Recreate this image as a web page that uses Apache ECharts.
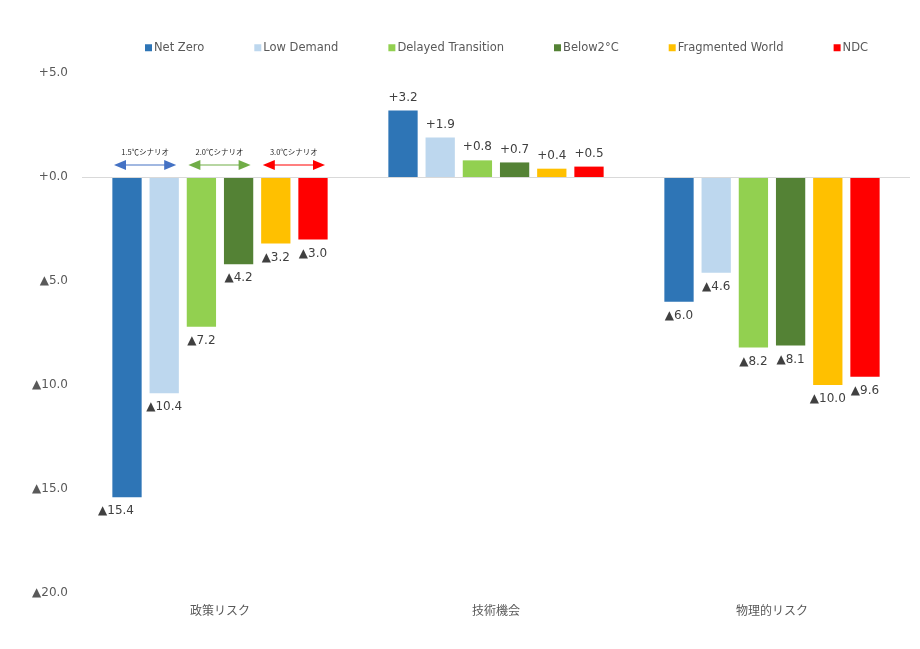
<!DOCTYPE html>
<html><head><meta charset="utf-8">
<script src="https://cdn.jsdelivr.net/npm/echarts@6/dist/echarts.min.js"></script>
<style>html,body{margin:0;padding:0;background:#fff}#c{width:920px;height:649px}</style>
</head><body><div id="c"></div>
<script>
const categories = ['政策リスク', '技術機会', '物理的リスク'];
const seriesNames = ['Net Zero', 'Low Demand', 'Delayed Transition', 'Below2°C', 'Fragmented World', 'NDC'];
const netZero = [-15.4, 3.2, -6.0];
const lowDemand = [-10.4, 1.9, -4.6];
const delayedTransition = [-7.2, 0.8, -8.2];
const below2 = [-4.2, 0.7, -8.1];
const fragmentedWorld = [-3.2, 0.4, -10.0];
const ndc = [-3.0, 0.5, -9.6];
const scenarioLabels = ['1.5℃シナリオ', '2.0℃シナリオ', '3.0℃シナリオ'];
const colors = ['#2E75B6', '#BDD7EE', '#92D050', '#548235', '#FFC000', '#FF0000'];
const arrowColors = ['#4472C4', '#70AD47', '#FF0000'];
const allValues = [netZero, lowDemand, delayedTransition, below2, fragmentedWorld, ndc];

const FONT = "'DejaVu Sans','Noto Sans CJK JP',sans-serif";
function fmt(v) {
  if (v >= 0) return '+' + Math.abs(v).toFixed(1);
  return '▲' + Math.abs(v).toFixed(1);
}
const chart = echarts.init(document.getElementById('c'));
const series = seriesNames.map((name, si) => ({
  name, type: 'bar',
  barCategoryGap: '22%', barGap: '27%',
  itemStyle: { color: colors[si] },
  data: allValues[si].map((v, ci) => ({
    value: v,
    label: {
      show: true,
      position: v >= 0 ? 'top' : 'bottom',
      distance: v >= 0 ? 7 : 8,
      offset: (si === 0 && ci === 0) ? [-11, 0] : [0, 0],
      formatter: p => fmt(p.value),
      color: '#404040', fontSize: 12, fontFamily: FONT
    }
  })),
  markLine: si === 0 ? {
    silent: true, symbol: ['none', 'none'],
    label: { show: false },
    lineStyle: { color: '#D9D9D9', type: 'solid', width: 1 },
    data: [{ yAxis: 0 }]
  } : undefined
}));

chart.setOption({
  animation: false,
  textStyle: { fontFamily: FONT },
  legend: {
    top: 37, left: 140,
    itemWidth: 7, itemHeight: 7, itemGap: 50,
    icon: 'rect',
    textStyle: { color: '#595959', fontSize: 11.5, fontFamily: FONT, padding: [0, 0, 0, -3] },
    data: seriesNames
  },
  grid: { left: 82, right: 10, top: 73, bottom: 56 },
  xAxis: {
    type: 'category', data: categories,
    axisLine: { show: false, onZero: false },
    axisTick: { show: false },
    axisLabel: { color: '#595959', fontSize: 12, margin: 13, fontFamily: FONT }
  },
  yAxis: {
    type: 'value', min: -20, max: 5, interval: 5,
    splitLine: { show: false },
    axisLine: { show: false }, axisTick: { show: false },
    axisLabel: { color: '#595959', fontSize: 12, margin: 14, formatter: fmt, fontFamily: FONT }
  },
  series
});

// Scenario arrows annotation above the first category
const cx = chart.convertToPixel({ xAxisIndex: 0 }, 0);
const band = (chart.convertToPixel({ xAxisIndex: 0 }, 1) - cx);
const groupW = band * 0.78;
const bw = groupW / (6 + 5 * 0.27);
const barCenter = i => cx - groupW / 2 + bw / 2 + i * bw * 1.27;
const ay = chart.convertToPixel({ yAxisIndex: 0 }, 0) - 12;
const graphics = [];
for (let k = 0; k < 3; k++) {
  const x1 = barCenter(2 * k) - 13, x2 = barCenter(2 * k + 1) + 12;
  const c = arrowColors[k];
  graphics.push({ type: 'line', shape: { x1: x1 + 10, y1: ay, x2: x2 - 10, y2: ay }, style: { stroke: c, lineWidth: 1.2 } });
  graphics.push({ type: 'polygon', shape: { points: [[x1, ay], [x1 + 12, ay - 5], [x1 + 12, ay + 5]] }, style: { fill: c } });
  graphics.push({ type: 'polygon', shape: { points: [[x2, ay], [x2 - 12, ay - 5], [x2 - 12, ay + 5]] }, style: { fill: c } });
  graphics.push({ type: 'text', x: (x1 + x2) / 2, y: ay - 13, style: { text: scenarioLabels[k], fill: '#262626', font: "7.5px 'Noto Sans CJK JP'", textAlign: 'center', textVerticalAlign: 'middle' } });
}
chart.setOption({ graphic: graphics });
</script></body></html>
